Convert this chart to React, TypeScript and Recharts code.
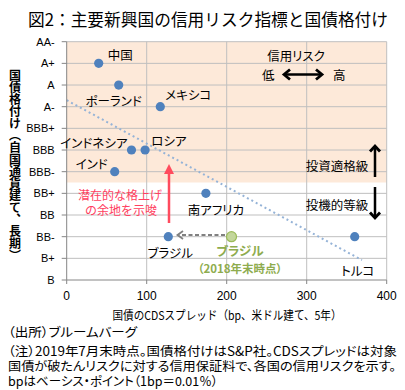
import React from 'react';
import { ScatterChart, Scatter, XAxis, YAxis, ReferenceArea, ReferenceLine } from 'recharts';

// 2019年7月末時点
const countries = ['中国', 'ポーランド', 'メキシコ', 'インドネシア', 'ロシア', 'インド', '南アフリカ', 'ブラジル', 'トルコ'];
const cdsSpread = [40, 65, 117, 81, 98, 60, 174, 127, 360];
const ratingIndex = [10, 9, 8, 6, 6, 5, 4, 2, 2];

// ブラジル（2018年末時点）
const brazil2018Spread = [206];
const brazil2018Rating = [2];

// 点線の回帰線（両端）
const trendSpread = [0, 369];
const trendRating = [8.3, 0.92];

const ratingLabels = ['B', 'B+', 'BB-', 'BB', 'BB+', 'BBB-', 'BBB', 'BBB+', 'A-', 'A', 'A+', 'AA-'];
const spreadTicks = [0, 100, 200, 300, 400];

// ラベル位置（点からのずれ）
const labelOffsets: [number, number, 'start' | 'middle' | 'end'][] = [
  [9, -3, 'start'],
  [-5, 21, 'middle'],
  [5, -7, 'start'],
  [-4, -2, 'end'],
  [6, -4, 'start'],
  [-7, -3, 'end'],
  [10, 22, 'middle'],
  [2, 21, 'middle'],
  [3, 39, 'middle'],
];

const JP = "'Noto Sans CJK JP', sans-serif";
const LATIN = "'Liberation Sans', Arial, sans-serif";
const palt = { fontFeatureSettings: '"palt"' };
const GRID = '#BFBFBF';

const points = countries.map((name, i) => ({ name, x: cdsSpread[i], y: ratingIndex[i] }));
const points2018 = brazil2018Spread.map((x, i) => ({ name: 'ブラジル', x, y: brazil2018Rating[i] }));
const trend = trendSpread.map((x, i) => ({ x, y: trendRating[i] }));
const ratingTicks = ratingLabels.map((_, i) => i);

const BlueDot = (props: any) => {
  const [dx, dy, anchor] = labelOffsets[props.index] || [0, 0, 'middle'];
  return (
    <g>
      <circle cx={props.cx} cy={props.cy} r={4.6} fill="#4F81BD" />
      <text x={props.cx + dx} y={props.cy + dy} textAnchor={anchor} fontSize={12.5} fontFamily={JP} fill="#000" style={palt}>
        {props.payload.name}
      </text>
    </g>
  );
};

const GreenDot = (props: any) => (
  <circle cx={props.cx} cy={props.cy} r={5} fill="#C3D69B" stroke="#9BBB59" strokeWidth={1.2} />
);

const App: React.FC = () => {
  return (
    <div style={{ position: 'absolute', left: 0, top: 0, width: 405, height: 390, background: '#fff' }}>
      <ScatterChart width={405} height={390} margin={{ top: 41.7, right: 18.3, bottom: 80, left: 0 }}>
        <ReferenceArea x1={0} x2={400} y1={4.5} y2={11} fill="#FDE9D9" fillOpacity={1} stroke="none" />
        {ratingTicks.slice(1).map((r) => (
          <ReferenceLine key={'h' + r} y={r} stroke={GRID} strokeWidth={1} />
        ))}
        {spreadTicks.slice(1).map((s) => (
          <ReferenceLine key={'v' + s} x={s} stroke={GRID} strokeWidth={1} />
        ))}
        <XAxis
          type="number"
          dataKey="x"
          domain={[0, 400]}
          ticks={spreadTicks}
          height={30}
          tickSize={4}
          tickMargin={7}
          stroke="#868686"
          tick={{ fill: '#000', fontSize: 12, fontFamily: LATIN }}
        />
        <YAxis
          type="number"
          dataKey="y"
          domain={[0, 11]}
          ticks={ratingTicks}
          tickFormatter={(v: number) => ratingLabels[v]}
          width={66.7}
          tickSize={5}
          tickMargin={7}
          stroke="#868686"
          tick={{ fill: '#000', fontSize: 11, fontFamily: LATIN }}
        />
        <ReferenceLine
          segment={[trend[0], trend[1]]}
          stroke="#95B3D7"
          strokeWidth={2}
          strokeDasharray="2 3"
        />
        <Scatter data={points} shape={BlueDot} isAnimationActive={false} />
        <Scatter data={points2018} shape={GreenDot} isAnimationActive={false} />
      </ScatterChart>

      <svg width={405} height={390} style={{ position: 'absolute', left: 0, top: 0, pointerEvents: 'none' }}>
        <text x={28} y={26} fontSize={17} fontFamily={JP} fill="#000" textLength={360} lengthAdjust="spacingAndGlyphs">
          図2：主要新興国の信用リスク指標と国債格付け
        </text>

        <text x={15} y={165} fontSize={12} fontWeight="bold" fontFamily={JP} fill="#000" textAnchor="middle" style={{ writingMode: 'vertical-rl' }}>
          国債格付け（自国通貨建て、長期）
        </text>

        <text x={227} y={320} fontSize={12} fontFamily={JP} fill="#000" textAnchor="middle" textLength={229} lengthAdjust="spacingAndGlyphs">
          国債のCDSスプレッド（bp、米ドル建て、5年）
        </text>

        {/* 信用リスク */}
        <text x={296} y={61} fontSize={12.5} fontFamily={JP} textAnchor="middle" style={palt}>信用リスク</text>
        <text x={262} y={80} fontSize={12.5} fontFamily={JP}>低</text>
        <text x={333} y={80} fontSize={12.5} fontFamily={JP}>高</text>
        <line x1={284} y1={74.5} x2={322} y2={74.5} stroke="#000" strokeWidth={2.5} />
        <polyline points="290,69.5 284,74.5 290,79.5" fill="none" stroke="#000" strokeWidth={2.8} />
        <polyline points="316,69.5 322,74.5 316,79.5" fill="none" stroke="#000" strokeWidth={2.8} />

        {/* 投資適格級 / 投機的等級 */}
        <text x={337} y={171} fontSize={12.5} fontFamily={JP} textAnchor="middle">投資適格級</text>
        <text x={337} y={210} fontSize={12.5} fontFamily={JP} textAnchor="middle">投機的等級</text>
        <line x1={375} y1={177} x2={375} y2={147} stroke="#000" strokeWidth={2.5} />
        <polyline points="370,151.5 375,146 380,151.5" fill="none" stroke="#000" strokeWidth={2.8} />
        <line x1={375} y1={187} x2={375} y2={217} stroke="#000" strokeWidth={2.5} />
        <polyline points="370,212.5 375,218 380,212.5" fill="none" stroke="#000" strokeWidth={2.8} />

        {/* 潜在的な格上げ */}
        <line x1={169} y1={223} x2={169} y2={172} stroke="#FF4B5E" strokeWidth={2.5} />
        <polygon points="164,174 169,164 174,174" fill="#FF4B5E" />
        <text x={120} y={200} fontSize={12} fontFamily={JP} fill="#FF4060" textAnchor="middle" textLength={84} lengthAdjust="spacingAndGlyphs">潜在的な格上げ</text>
        <text x={121} y={215} fontSize={12} fontFamily={JP} fill="#FF4060" textAnchor="middle">の余地を示唆</text>

        {/* ブラジル 2018 → 2019 */}
        <line x1={225} y1={235} x2={179} y2={235} stroke="#808080" strokeWidth={1.8} strokeDasharray="4 2.5" />
        <polyline points="183,231 177.5,235 183,239" fill="none" stroke="#808080" strokeWidth={1.8} />
        <text x={240} y={256} fontSize={12.5} fontWeight="bold" fontFamily={JP} fill="#8EAC4E" textAnchor="middle" style={palt}>ブラジル</text>
        <text x={240} y={273} fontSize={11.5} fontWeight="bold" fontFamily={JP} fill="#8EAC4E" textAnchor="middle" style={palt}>（2018年末時点）</text>

        {/* 注記 */}
        <g fontSize={12.5} fontFamily={JP} style={palt}>
          <text x={8} y={337} textLength={129} lengthAdjust="spacingAndGlyphs">（出所）ブルームバーグ</text>
          <text x={8} y={356} textLength={389} lengthAdjust="spacingAndGlyphs">（注）2019年7月末時点。国債格付けはS&amp;P社。CDSスプレッドは対象</text>
          <text x={8} y={371} textLength={388} lengthAdjust="spacingAndGlyphs">国債が破たんリスクに対する信用保証料で、各国の信用リスクを示す。</text>
          <text x={8} y={386} textLength={210} lengthAdjust="spacingAndGlyphs">bpはベーシス・ポイント（1bp＝0.01％）</text>
        </g>
      </svg>
    </div>
  );
};

export default App;
